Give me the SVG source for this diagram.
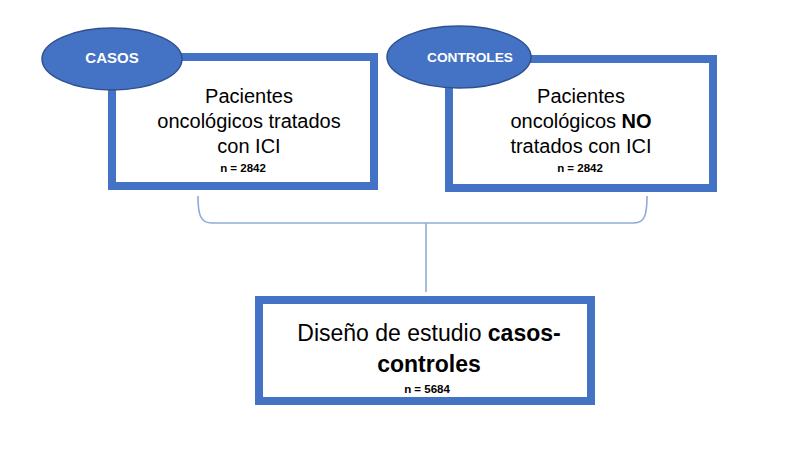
<svg xmlns="http://www.w3.org/2000/svg" width="800" height="457" viewBox="0 0 800 457">
<style>
.box{fill:#fff;stroke:#4472c4;stroke-width:8}
.ell{fill:#4472c4;stroke:#2f528f;stroke-width:1.5}
.lbl{font-family:"Liberation Sans",Arial,sans-serif;font-weight:bold;fill:#fff;text-anchor:middle}
.t{font-family:"Liberation Sans",Arial,sans-serif;fill:#000;text-anchor:middle}
.n{font-family:"Liberation Sans",Arial,sans-serif;font-weight:bold;font-size:11.5px;fill:#000;text-anchor:middle}
.con{fill:none;stroke:#8faadc;stroke-width:1.6}
</style>
<rect width="800" height="457" fill="#fff"/>
<g id="connectors">
<path class="con" d="M198,196 C198,214 200,223 212,223 L634,223 C645,223 647,214 647,196"/>
<path class="con" d="M426,223 L426,292"/>
</g>
<g id="casos">
<rect class="box" x="112" y="57" width="262" height="129"/>
<ellipse class="ell" cx="112" cy="59" rx="70" ry="31"/>
<text class="lbl" x="112" y="63" font-size="15">CASOS</text>
<text class="t" font-size="20"><tspan x="249" y="103">Pacientes</tspan><tspan x="249" y="128">oncológicos tratados</tspan><tspan x="249" y="153">con ICI</tspan></text>
<text class="n" x="243" y="172">n = 2842</text>
</g>
<g id="controles">
<rect class="box" x="449" y="59" width="264" height="129"/>
<ellipse class="ell" cx="459" cy="57" rx="72" ry="31"/>
<text class="lbl" x="470" y="62" font-size="13.7">CONTROLES</text>
<text class="t" font-size="20"><tspan x="581" y="103">Pacientes</tspan><tspan x="581" y="128">oncológicos <tspan font-weight="bold">NO</tspan></tspan><tspan x="581" y="153">tratados con ICI</tspan></text>
<text class="n" x="580" y="172">n = 2842</text>
</g>
<g id="diseno">
<rect class="box" x="259" y="300" width="332" height="101"/>
<text class="t" font-size="23"><tspan x="429" y="341">Diseño de estudio <tspan font-weight="bold">casos-</tspan></tspan><tspan x="429" y="372" font-weight="bold">controles</tspan></text>
<text class="n" x="427" y="393">n = 5684</text>
</g>
</svg>
